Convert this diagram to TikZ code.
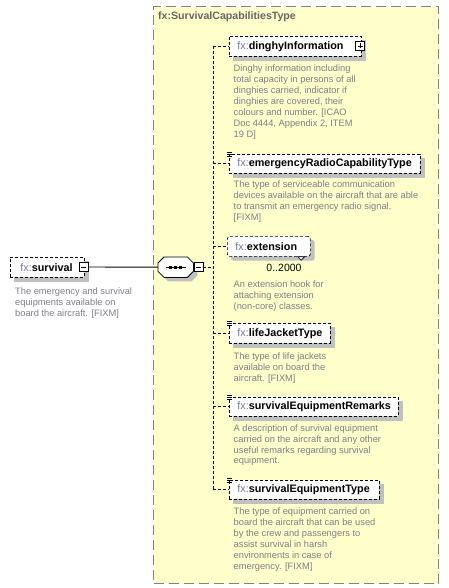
\documentclass[tikz,border=0pt]{standalone}
\usepackage{fontspec}
\setmainfont{Liberation Sans}
\definecolor{yel}{RGB}{255,255,204}
\definecolor{yelborder}{RGB}{128,128,128}
\definecolor{descc}{RGB}{125,125,135}
\definecolor{fxc}{RGB}{119,119,153}
\definecolor{titlec}{RGB}{100,100,100}
\definecolor{shadec}{RGB}{192,192,192}
\newcommand\labfont{\fontsize{10.8}{12}\selectfont}
\newcommand\descfont{\fontsize{9.3}{10.9}\selectfont}
\newcommand\lab[2]{\makebox[#1][l]{\textcolor{fxc}{fx:}\textbf{#2}}}
\newcommand\ticon[1]{\foreach \d in {2,0,-2}{\draw[line width=0.6pt] ([shift={(-2pt,\d pt)}]#1.north west) -- ++(5,0);}}
\newcommand\chamf[1]{([xshift=6pt]#1.north west) -- ([xshift=-6pt]#1.north east) -- ([yshift=-6pt]#1.north east) -- ([yshift=6pt]#1.south east) -- ([xshift=-6pt]#1.south east) -- ([xshift=6pt]#1.south west) -- ([yshift=6pt]#1.south west) -- ([yshift=-6pt]#1.north west) -- cycle}
\pgfdeclarelayer{bglayer}
\pgfdeclarelayer{shadowlayer}
\pgfsetlayers{bglayer,shadowlayer,main}
\begin{document}
\begin{tikzpicture}[x=1pt,y=-1pt,
  elem/.style={draw, dash pattern=on 3pt off 2pt, line width=0.7pt, fill=white,
    anchor=north west, inner xsep=8pt, inner ysep=0pt, minimum height=20pt,
    font=\labfont},
  desc/.style={anchor=north west, align=left, inner sep=0pt, text=descc, font=\descfont},
  conn/.style={dash pattern=on 3pt off 2pt, line width=0.8pt},
  shadowfill/.style={fill=shadec},
  seqframe/.style={minimum width=35pt, minimum height=20pt, anchor=north west, inner sep=0pt},
  pm/.style={draw, solid, line width=0.7pt, fill=white, minimum size=9pt, inner sep=0pt}]
\useasboundingbox (0,0) rectangle (449,588);

% complex type container
\begin{pgfonlayer}{bglayer}
\node[draw=yelborder, fill=yel, dash pattern=on 10pt off 5pt, line width=1.2pt,
  anchor=north west, minimum width=285pt, minimum height=577pt, inner sep=0pt] (ct) at (153,6) {};
\end{pgfonlayer}
\node[anchor=west, inner sep=0pt, text=titlec, font=\fontsize{10.6}{12}\selectfont\bfseries] (cttitle) at (158,17) {fx:SurvivalCapabilitiesType};

% root element
\node[elem, inner xsep=10pt, minimum height=20pt] (surv) at (10,257) {\lab{54pt}{survival}};
\node[pm] (survm) at (83.5,267) {};
\draw[line width=0.7pt] ([xshift=-2.5pt]survm.center) -- ([xshift=2.5pt]survm.center);
\node[desc] (survd) at (15,287.6) {The emergency and survival\\equipments available on\\board the aircraft. [FIXM]};

% sequence compositor
\node[seqframe] (seq) at (158,257) {};
\node[seqframe] (seqsh) at (162,261) {};
\begin{pgfonlayer}{shadowlayer}
\fill[shadowfill] \chamf{seqsh};
\end{pgfonlayer}
\draw[fill=white, line width=0.8pt] \chamf{seq};
\draw[line width=0.8pt] ([xshift=-10pt]seq.center) -- ([xshift=10pt]seq.center);
\foreach \dx in {-5,0,5} \fill ([xshift=\dx pt]seq.center) +(-1.6,-1.6) rectangle +(1.6,1.6);
\node[pm] (seqm) at (198.5,267) {};
\draw[line width=0.7pt] ([xshift=-2.5pt]seqm.center) -- ([xshift=2.5pt]seqm.center);

\draw[line width=0.9pt] (survm.east) -- (seq.west);

% children
\node[elem] (dinghy) at (229,36) {\lab{116pt}{dinghyInformation}};
\node[pm, minimum size=8.5pt] (dplus) at (360,46) {};
\draw[line width=0.7pt] ([xshift=-2.5pt]dplus.center) -- ([xshift=2.5pt]dplus.center)
  ([yshift=-2.5pt]dplus.center) -- ([yshift=2.5pt]dplus.center);
\node[desc] (dinghyd) at (233.5,65) {Dinghy information including\\total capacity in persons of all\\dinghies carried, indicator if\\dinghies are covered, their\\colours and number. [ICAO\\Doc 4444, Appendix 2, ITEM\\19 D]};

\node[elem, minimum height=19pt] (emerg) at (229,154) {\lab{175pt}{emergencyRadioCapabilityType}};
\ticon{emerg}
\node[desc] (emergd) at (233.5,181) {The type of serviceable communication\\devices available on the aircraft that are able\\to transmit an emergency radio signal.\\{[FIXM]}};

\node[elem, rounded corners=2.5pt] (ext) at (227,236) {\lab{67pt}{extension}};
\draw[fill=white, solid, line width=0.6pt] ([xshift=-13pt]ext.south east) -- ++(3.5,3.5) -- ++(3.5,-3.5) -- cycle;
\node[inner sep=0pt, font=\fontsize{10.5}{12}\selectfont] (extocc) at (284,268) {0..2000};
\node[desc] (extd) at (233.5,280.6) {An extension hook for\\attaching extension\\(non-core) classes.};

\node[elem] (life) at (229,323) {\lab{85pt}{lifeJacketType}};
\ticon{life}
\node[desc] (lifed) at (233.5,352.6) {The type of life jackets\\available on board the\\aircraft. [FIXM]};

\node[elem, minimum height=19pt] (rem) at (229,397) {\lab{153pt}{survivalEquipmentRemarks}};
\ticon{rem}
\node[desc] (remd) at (233.5,424.3) {A description of survival equipment\\carried on the aircraft and any other\\useful remarks regarding survival\\equipment.};

\node[elem, minimum height=19pt] (setype) at (229,480) {\lab{134pt}{survivalEquipmentType}};
\ticon{setype}
\node[desc] (setyped) at (233.5,507.6) {The type of equipment carried on\\board the aircraft that can be used\\by the crew and passengers to\\assist survival in harsh\\environments in case of\\emergency. [FIXM]};

% shadows
\begin{pgfonlayer}{shadowlayer}
\foreach \n in {surv,dinghy,emerg,life,rem,setype}
  \fill[shadowfill] ([shift={(4,4)}]\n.north west) rectangle ([shift={(4,4)}]\n.south east);
\fill[shadowfill, rounded corners=2.5pt] ([shift={(4,4)}]ext.north west) rectangle ([shift={(4,4)}]ext.south east);
\end{pgfonlayer}

% connectors
\coordinate (bus) at (213,0);
\draw[conn] (seqm.east) -- (seqm.east -| bus);
\draw[conn] (bus |- dinghy.west) -- (bus |- setype.west);
\foreach \n in {dinghy,emerg,ext,life,rem,setype}
  \draw[conn] (bus |- \n.west) -- (\n.west);
\end{tikzpicture}
\end{document}
